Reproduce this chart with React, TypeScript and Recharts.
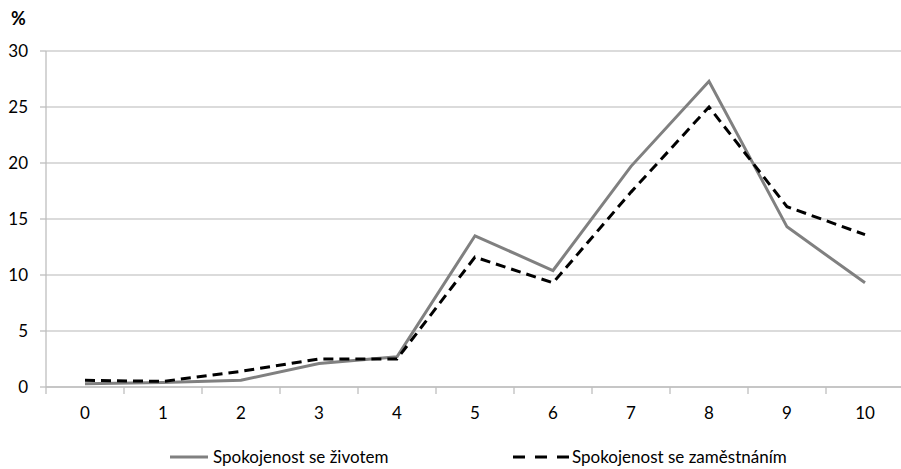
import { CartesianGrid, Line, LineChart, XAxis, YAxis } from 'recharts'

const categories = ['0', '1', '2', '3', '4', '5', '6', '7', '8', '9', '10']
const lifeValues = [0.3, 0.4, 0.6, 2.1, 2.7, 13.5, 10.4, 19.7, 27.3, 14.3, 9.3]
const jobValues = [0.6, 0.5, 1.4, 2.5, 2.5, 11.6, 9.3, 17.4, 25.0, 16.1, 13.6]
const yTicks = [0, 5, 10, 15, 20, 25, 30]

const LIFE_NAME = 'Spokojenost se životem'
const JOB_NAME = 'Spokojenost se zaměstnáním'
const FONT = 'Lato, "Open Sans", sans-serif'
const HALF_BAND = 39

const data = categories.map((c, i) => ({ cat: c, life: lifeValues[i], job: jobValues[i] }))

// category ticks: label in the band centre, tick mark on the band edge
function CatTick(props: any) {
  const { x, y, payload } = props
  return (
    <g>
      <line x1={x - HALF_BAND} y1={y - 8} x2={x - HALF_BAND} y2={y - 1} stroke="#bfbfbf" strokeWidth={1.3} />
      <text x={x} y={y + 10} textAnchor="middle" dominantBaseline="hanging" fill="#000" fontSize={17} fontFamily={FONT}>
        {payload.value}
      </text>
    </g>
  )
}

export default function App() {
  return (
    <div style={{ position: 'absolute', left: 0, top: 0, width: 901, height: 469, overflow: 'hidden', background: '#fff', fontFamily: FONT }}>
      <div style={{ position: 'absolute', left: 11, top: 7, fontSize: 18, fontWeight: 700, color: '#000' }}>%</div>
      <LineChart width={904} height={469} data={data} margin={{ top: 51, right: 0, bottom: 0, left: 0 }}>
        <CartesianGrid horizontal vertical={false} stroke="#cfcfcf" strokeWidth={1.3} />
        <XAxis
          dataKey="cat"
          height={82}
          stroke="#bfbfbf"
          strokeWidth={1.3}
          padding={{ left: HALF_BAND, right: HALF_BAND }}
          tickLine={false}
          tick={<CatTick />}
        />
        <YAxis
          domain={[0, 30]}
          ticks={yTicks}
          width={46}
          stroke="#bfbfbf"
          strokeWidth={1.3}
          tickSize={6}
          tickMargin={12}
          tick={{ fill: '#000', fontSize: 17, fontFamily: FONT }}
        />
        <Line dataKey="life" name={LIFE_NAME} stroke="#808080" strokeWidth={3} dot={false} isAnimationActive={false} />
        <Line dataKey="job" name={JOB_NAME} stroke="#000" strokeWidth={3} strokeDasharray="10 6" dot={false} isAnimationActive={false} />
      </LineChart>
      <div style={{ position: 'absolute', top: 446, left: 170, display: 'flex', alignItems: 'center', fontSize: 17, color: '#000' }}>
        <svg width={40} height={10}>
          <line x1={0} y1={5} x2={38} y2={5} stroke="#808080" strokeWidth={3} />
        </svg>
        <span style={{ marginLeft: 3 }}>{LIFE_NAME}</span>
      </div>
      <div style={{ position: 'absolute', top: 446, left: 513, display: 'flex', alignItems: 'center', fontSize: 17, color: '#000' }}>
        <svg width={57} height={10}>
          <line x1={0} y1={5} x2={56} y2={5} stroke="#000" strokeWidth={3} strokeDasharray="12 10" />
        </svg>
        <span style={{ marginLeft: 2 }}>{JOB_NAME}</span>
      </div>
    </div>
  )
}
